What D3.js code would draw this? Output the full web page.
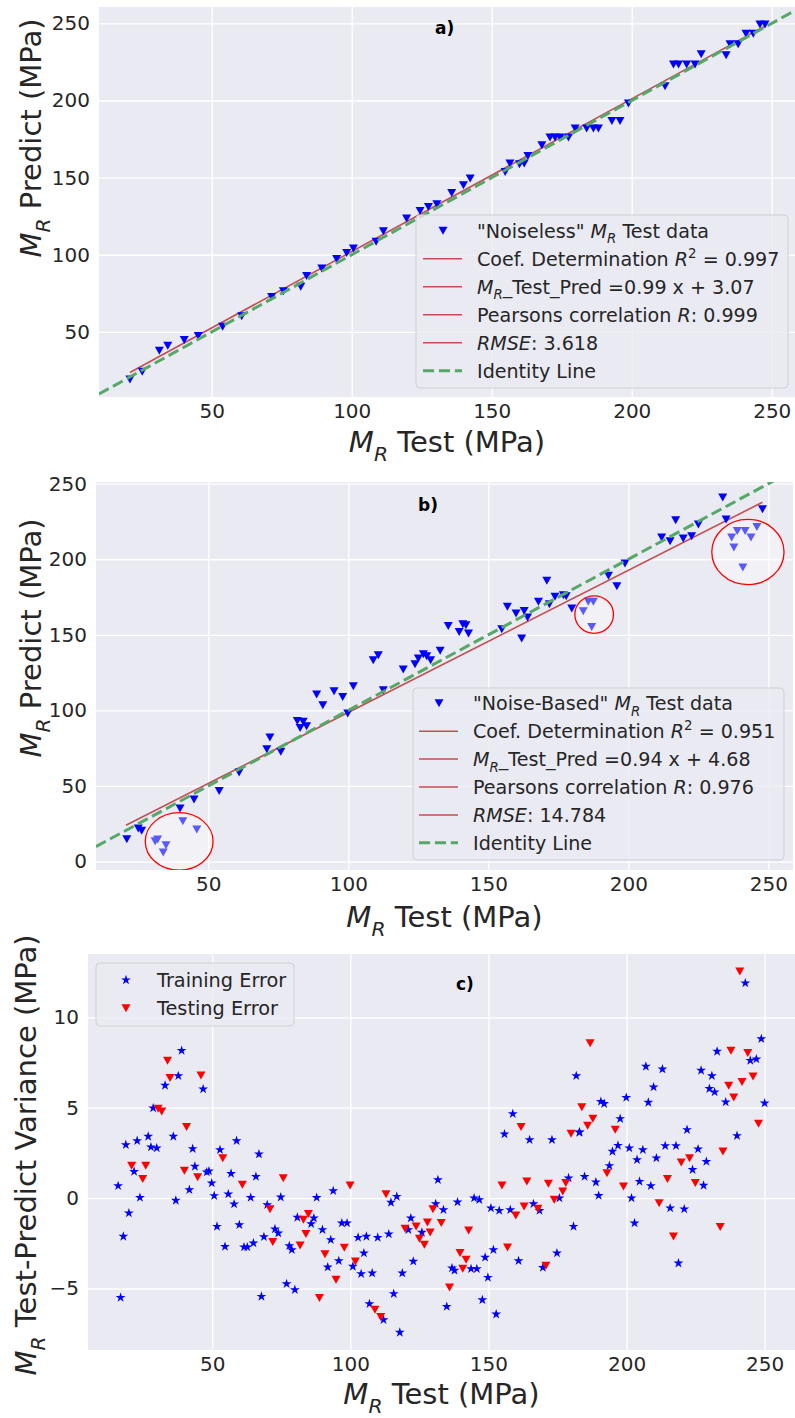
<!DOCTYPE html>
<html><head><meta charset="utf-8">
<script src="https://cdn.jsdelivr.net/npm/d3@7"></script>
<style>body{margin:0;background:#fff} svg{display:block} text{font-family:"DejaVu Sans",sans-serif}</style>
</head><body><svg id="chart" width="795" height="1418"></svg>
<script>
// ---------- DATA ----------
const xTickValues = [50, 100, 150, 200, 250];
const aYTickValues = [50, 100, 150, 200, 250];
const bYTickValues = [0, 50, 100, 150, 200, 250];
const cYTickValues = [-5, 0, 5, 10];

// Panel a: "Noiseless" test data
const aTest = [20.8,25.2,31.3,34.3,40.2,45.2,53.9,60.7,71.4,75.6,81.8,83.9,89.3,94.6,98.2,100.6,108.7,111.3,119.6,124.4,127.4,130.4,135.7,139.9,142.3,154.8,156.5,159.9,161.6,162.9,167.9,170.8,172.6,174.4,177.4,179.8,183.9,186.3,188.1,192.9,195.8,198.8,211.9,214.9,216.7,219.6,222.6,224.8,233.7,235.1,238,240.8,243.4,245.8,247.6];
const aPred = [19.2,24.2,37.8,41,44.7,47.3,53.3,60.2,72.7,76.4,79.2,86.3,91.1,97.2,101.2,104,108.4,115.3,123.5,128.4,131,132.8,140.1,145.1,149.4,153.7,159.1,158.7,159.1,164,171,176,176,176,176,181.8,181.8,181.8,181.8,186.7,186.7,198,209.2,223.4,223.4,223.4,223.4,229.9,229.3,236.4,236.4,243.3,243.3,249.3,249.3];
const aFit = {slope: 0.99, intercept: 3.07, from: 20.8, to: 247.6};

// Panel b: "Noise-Based" test data
const bTest = [20.9,25,26.2,39.9,44.9,53.9,61,70.9,72,75.9,81.8,82.8,83.9,85.1,88.7,90.9,94.9,98,101.8,99.8,108.9,110.7,112.5,119.6,123.8,125,126.8,128,129.4,132.8,135.7,139.6,140.9,142,142.9,154.8,156.8,159.9,162.8,164,161.9,167.9,170.9,171.8,173.8,176.8,177.8,179.8,192.9,195.9,198.8,211.9,214.9,216.9,219.6,222.6,225,233.7,234.9,247.9,
  31,31.9,33.9,34.9,40.9,45.9,183.9,185.7,187.5,186.9,236.9,238.9,241.7,243.8,245.9,237.7,240.9];
const bPred = [14.8,21.9,20.3,35.1,41.1,46.6,58.9,74.3,82.1,72.6,92.9,88.4,92.4,89.5,110.5,103.4,112.7,108.9,116,98,133.2,136.5,113.4,127,130.6,134.3,137.2,135.8,133.1,139.4,155.9,151.9,157,156.3,150.9,153.7,168.5,164.1,165.8,161.4,147.6,171.8,185.7,170.2,175.1,176.2,175.5,167.4,189,182.1,197.2,214.4,211.9,225.8,213.7,215.2,222.9,240.8,226.3,233.1,
  13.5,14.6,6,10.8,26.7,21.2,165.6,171.8,171.8,155.2,214.4,218.7,218.7,214.4,221.4,207.7,194.5];
const bFit = {slope: 0.94, intercept: 4.68, from: 20.6, to: 247.9};
// highlighted clusters (centre x, centre y, radius x, radius y, in data units)
const bClusterX = [39.6, 187.8, 242.7];
const bClusterY = [13.3, 163.4, 204.8];
const bClusterRX = [12.1, 6.9, 12.9];
const bClusterRY = [19.0, 12.4, 21.6];

// Panel c: training / testing errors
const cTrainX = [38.9,37.7,32.9,46.7,28.6,18.7,22.8,26.8,27.8,29.9,35.9,42.9,52.8,58.8,66.9,21.7,15.9,23.8,19.8,17.8,16.8,36.8,41.7,43.7,48,48.8,49.8,50.7,55.8,57.9,56.8,65.8,63.9,51.7,59.8,54.6,61.5,62.7,64.9,67.8,69.9,74.8,68.7,72.7,73.9,77.9,78.8,80.8,86.8,85.8,87.8,93.8,89.9,92.9,76.9,79.9,91.8,95.8,96.9,98.8,100.9,103.9,107.9,102.8,105.8,109.9,104.9,106.9,112,113.9,114.7,116.8,115.7,117.9,118.8,121.9,121,122.8,125.9,130.9,131.7,133.7,138.8,144.8,146.7,150.9,153.9,157.9,166.3,168.5,175.7,179,184.8,188.9,189.9,193.8,194.9,196.9,201,203.8,205.9,204.7,208.8,201.8,202.9,210.8,214,217.9,215.8,220.9,218.8,221.9,223.9,225.9,228.9,227.9,240,136.8,137.7,143.7,145.8,148.8,151.8,149.8,134.9,147.8,152.8,160.9,169.7,174.8,180.8,155.8,164.9,173,182.9,243,248.8,232.8,244.8,247,227,230.9,230,231.9,235.9,250,207,213,209.8,207.9,199.9,190.7,191.9,181.8,197.7,183,158.8];
const cTrainY = [8.16,6.76,6.23,6.03,4.98,2.95,3.17,3.41,2.82,2.77,3.41,2.73,2.67,3.17,2.43,1.47,0.68,0.03,-0.83,-2.12,-5.5,-0.13,0.46,1.75,1.44,1.49,0.83,0.13,0.22,-0.33,1.36,1.19,0.03,-1.57,-1.48,-2.68,-2.71,-2.71,-2.49,-5.44,-0.37,0.05,-2.14,-1.71,-1.94,-2.64,-2.86,-1.07,-1.11,-1.42,0.03,0.4,-1.75,-2.31,-4.74,-5.07,-3.82,-3.47,-1.38,-1.38,-3.78,-4.19,-4.15,-2.18,-2.12,-2.18,-3.04,-5.85,-6.73,-1.99,-0.24,0.09,-5.29,-7.43,-4.15,-1.11,-1.75,-3.5,-1.9,-0.32,1.01,-0.65,-0.22,0,-0.09,-0.55,-0.69,-0.65,-0.32,-0.69,0,1.11,1.19,0.88,0.14,1.79,2.58,2.91,2.77,2.12,2.67,0.92,0.68,0,-1.38,2.21,2.89,2.89,-0.55,-0.61,-3.6,3.78,1.57,2.71,2.02,0.7,3.45,-3.87,-4,-3.91,-3.91,-3.28,-2.86,-4.39,-6,-5.63,-6.42,-3.47,-3.84,-3.04,-1.57,3.54,3.22,3.22,3.63,11.89,8.81,8.11,7.61,7.69,7.06,6.76,6.05,5.86,5.31,5.25,7.28,7.13,6.14,5.29,5.56,5.34,5.22,6.76,4.39,3.65,4.66];
const cTestX = [33.8,34.7,45.9,30.4,31.7,40.7,53.8,20.8,25.9,24.8,39.9,44.7,60.9,75.7,70.9,71.9,83,84.8,83.9,81.8,90.8,88.8,94.8,97.8,101.8,99.9,108.9,111,112.9,119.8,123.8,127.9,128.9,125,126.8,129.9,132.9,142.8,139.7,141.9,140.7,135.9,154.9,163.9,156.9,159.9,162.9,167.9,170.8,171.7,173.8,176.9,178,179.9,192.9,195.9,198.9,211.8,214.8,217,219.8,222.8,224.9,234.9,233.9,241,186.8,237.8,243.9,237,241.8,245.8,238.8,247.8,183.8,187.8,185.9,161.8];
const cTestY = [7.59,6.64,6.78,4.94,4.79,3.93,2.21,1.79,1.79,1.05,1.51,1.16,0.74,1.1,-0.61,-2.43,-1.2,-0.88,-1.99,-2.62,-3.1,-5.53,-4.52,-2.75,-3.5,0.7,-6.18,-6.58,0.22,-1.7,-1.57,-1.35,-1.9,-2.25,-2.58,-0.61,-1.38,-1.79,-3.04,-3.41,-3.91,-4.94,0.7,0.92,-2.73,-0.96,-0.46,-0.59,-3.74,0.79,-0.09,0.37,0.83,3.56,1.38,3.78,0.64,-0.28,1.05,-2.12,1.97,2.21,0.83,2.58,-1.6,12.53,8.57,8.15,8.02,6.21,6.42,6.73,5.56,4.11,5.03,4.39,4,3.93];

// ---------- STYLE / LAYOUT ----------
const BG = "#eaeaf2", TXT = "#262626", RED = "#c44e52", GREEN = "#55a868";
const svg = d3.select("#chart");

function tri(w, h) { return `M${-w/2},${-h/2}L${w/2},${-h/2}L0,${h/2}Z`; }
const starPath = d3.symbol().type(d3.symbolStar).size(30)();

function rich(sel, segs, fs) {
  let shift = 0;
  segs.forEach(s => {
    const target = s.sub ? 0.3 : (s.sup ? -0.42 : 0);
    const ts = sel.append("tspan").text(s.t);
    if (s.i) ts.attr("font-style", "italic");
    if (s.sub || s.sup) ts.attr("font-size", (fs * 0.7) + "px");
    if (target !== shift) ts.attr("dy", ((target - shift) * fs) + "px");
    shift = target;
  });
}
const MR = [{t: "M", i: true}, {t: "R", i: true, sub: true}];

function panel(cfg) {
  const g = svg.append("g");
  const x = d3.scaleLinear().domain(cfg.xDomain).range([cfg.left, cfg.right]);
  const y = d3.scaleLinear().domain(cfg.yDomain).range([cfg.bottom, cfg.top]);
  const clipId = "clip" + cfg.id;
  svg.append("clipPath").attr("id", clipId).append("rect")
    .attr("x", cfg.left).attr("y", cfg.top).attr("width", cfg.right - cfg.left).attr("height", cfg.bottom - cfg.top);
  g.append("rect").attr("x", cfg.left).attr("y", cfg.top).attr("width", cfg.right - cfg.left)
    .attr("height", cfg.bottom - cfg.top).attr("fill", BG);
  const xa = d3.axisBottom(x).tickValues(cfg.xTicks).tickSize(-(cfg.bottom - cfg.top)).tickPadding(6);
  const ya = d3.axisLeft(y).tickValues(cfg.yTicks).tickSize(-(cfg.right - cfg.left)).tickPadding(cfg.yPad);
  const gx = g.append("g").attr("transform", `translate(0,${cfg.bottom})`).call(xa);
  const gy = g.append("g").attr("transform", `translate(${cfg.left},0)`).call(ya);
  [gx, gy].forEach(a => {
    a.select(".domain").remove();
    a.selectAll(".tick line").attr("stroke", "#fff").attr("stroke-width", 1.3);
    a.selectAll(".tick text").attr("fill", TXT).attr("font-size", cfg.tickFs + "px")
      .attr("font-family", '"DejaVu Sans", sans-serif');
  });
  gx.selectAll(".tick text").attr("dy", "0.75em");
  const plot = g.append("g").attr("clip-path", `url(#${clipId})`);
  cfg.draw({ plot, x, y });
  const xl = g.append("text").attr("x", (cfg.left + cfg.right) / 2).attr("y", cfg.xLabelY)
    .attr("text-anchor", "middle").attr("fill", TXT).attr("font-size", cfg.labelFs + "px");
  rich(xl, MR.concat([{t: " Test (MPa)"}]), cfg.labelFs);
  const yl = g.append("text").attr("transform", `translate(${cfg.yLabelX},${cfg.yLabelCY}) rotate(-90)`)
    .attr("text-anchor", "middle").attr("fill", TXT).attr("font-size", cfg.labelFs + "px");
  rich(yl, MR.concat([{t: cfg.yLabel}]), cfg.labelFs);
  g.append("text").attr("x", cfg.tag.x).attr("y", cfg.tag.y).attr("font-weight", "bold")
    .attr("font-size", "17px").attr("fill", "#000").attr("font-family", '"Open Sans", sans-serif').text(cfg.tag.t);
  const L = cfg.legend;
  const lg = g.append("g");
  lg.append("rect").attr("x", L.x).attr("y", L.y).attr("width", L.w).attr("height", L.h).attr("rx", 4)
    .attr("fill", BG).attr("fill-opacity", 0.8).attr("stroke", "#cfcfd6").attr("stroke-width", 1);
  L.items.forEach((it, i) => {
    const cy = L.y + L.first + i * L.step;
    if (it.kind === "tri") lg.append("path").attr("d", tri(9, 8)).attr("transform", `translate(${L.hx + 20},${cy})`).attr("fill", it.color);
    else if (it.kind === "star") lg.append("path").attr("d", starPath).attr("transform", `translate(${L.hx + 20},${cy})`).attr("fill", it.color);
    else if (it.kind === "line") lg.append("line").attr("x1", L.hx).attr("x2", L.hx + 39).attr("y1", cy).attr("y2", cy).attr("stroke", RED).attr("stroke-width", 1.5);
    else lg.append("line").attr("x1", L.hx).attr("x2", L.hx + 39).attr("y1", cy).attr("y2", cy).attr("stroke", GREEN).attr("stroke-width", 3).attr("stroke-dasharray", "11.1 4.8");
    const t = lg.append("text").attr("x", L.tx).attr("y", cy).attr("dy", "0.36em").attr("fill", TXT).attr("font-size", L.fs + "px");
    rich(t, it.label, L.fs);
  });
}

function regPanel(mk, xs, ys, fit, dom) {
  const {plot, x, y} = mk;
  plot.append("line").attr("x1", x(fit.from)).attr("x2", x(fit.to))
    .attr("y1", y(fit.slope * fit.from + fit.intercept)).attr("y2", y(fit.slope * fit.to + fit.intercept))
    .attr("stroke", RED).attr("stroke-width", 1.6);
  plot.selectAll("path.pt").data(xs).join("path").attr("class", "pt").attr("d", tri(9, 8))
    .attr("transform", (d, i) => `translate(${x(d)},${y(ys[i])})`).attr("fill", "#0000ff");
  plot.append("line").attr("x1", x(dom[0])).attr("x2", x(dom[1])).attr("y1", y(dom[0])).attr("y2", y(dom[1]))
    .attr("stroke", GREEN).attr("stroke-width", 3).attr("stroke-dasharray", "11.1 4.8");
}

const regLegend = (name, r2, eq, r, rmse) => [
  {kind: "tri", color: "#0000ff", label: [{t: ` "${name}" `}].concat(MR, [{t: " Test data"}])},
  {kind: "line", label: [{t: "Coef. Determination "}, {t: "R", i: true}, {t: "2", sup: true}, {t: " = " + r2}]},
  {kind: "line", label: MR.concat([{t: "_Test_Pred =" + eq}])},
  {kind: "line", label: [{t: "Pearsons correlation "}, {t: "R", i: true}, {t: ": " + r}]},
  {kind: "line", label: [{t: "RMSE", i: true}, {t: ": " + rmse}]},
  {kind: "dash", label: [{t: "Identity Line"}]}
];

panel({
  id: "a", left: 99, right: 795, top: 7, bottom: 397,
  xDomain: [9.75, 258.3], yDomain: [7.8, 260.6], xTicks: xTickValues, yTicks: aYTickValues,
  tickFs: 20, labelFs: 29, yPad: 9, xLabelY: 452, yLabelX: 41, yLabelCY: 138, yLabel: " Predict (MPa)",
  tag: {t: "a)", x: 435, y: 34},
  legend: {x: 416, y: 215, w: 372, h: 173, first: 15.7, step: 28, hx: 423, tx: 477, fs: 19.1,
    items: regLegend("Noiseless", "0.997", "0.99 x + 3.07", "0.999", "3.618")},
  draw: mk => regPanel(mk, aTest, aPred, aFit, [9.75, 258.3])
});

panel({
  id: "b", left: 96, right: 793, top: 482, bottom: 870,
  xDomain: [9.9, 258.8], yDomain: [-5.6, 251.1], xTicks: xTickValues, yTicks: bYTickValues,
  tickFs: 20, labelFs: 29, yPad: 9, xLabelY: 927, yLabelX: 41, yLabelCY: 638, yLabel: " Predict (MPa)",
  tag: {t: "b)", x: 418, y: 511},
  legend: {x: 413, y: 688, w: 371, h: 172, first: 15.3, step: 27.9, hx: 419, tx: 473, fs: 19.1,
    items: regLegend("Noise-Based", "0.951", "0.94 x + 4.68", "0.976", "14.784")},
  draw: mk => {
    regPanel(mk, bTest, bPred, bFit, [9.9, 258.8]);
    const {plot, x, y} = mk;
    plot.selectAll("ellipse").data(bClusterX).join("ellipse")
      .attr("cx", d => x(d)).attr("cy", (d, i) => y(bClusterY[i]))
      .attr("rx", (d, i) => x(d + bClusterRX[i]) - x(d)).attr("ry", (d, i) => y(0) - y(bClusterRY[i]))
      .attr("fill", "#fff").attr("fill-opacity", 0.35).attr("stroke", "#ff0000").attr("stroke-width", 1.3);
  }
});

panel({
  id: "c", left: 88, right: 795, top: 954, bottom: 1350,
  xDomain: [5, 261], yDomain: [-8.4, 13.5], xTicks: xTickValues, yTicks: cYTickValues,
  tickFs: 20, labelFs: 29, yPad: 9, xLabelY: 1404, yLabelX: 36, yLabelCY: 1155, yLabel: " Test-Predict Variance (MPa)",
  tag: {t: "c)", x: 456, y: 990},
  legend: {x: 96, y: 963, w: 198, h: 63, first: 17, step: 28.3, hx: 106, tx: 157, fs: 19.3,
    items: [{kind: "star", color: "#0000ff", label: [{t: "Training Error"}]},
            {kind: "tri", color: "#ff0000", label: [{t: "Testing Error"}]}]},
  draw: mk => {
    const {plot, x, y} = mk;
    plot.selectAll("path.tr").data(cTrainX).join("path").attr("class", "tr").attr("d", starPath)
      .attr("transform", (d, i) => `translate(${x(d)},${y(cTrainY[i])})`).attr("fill", "#0000ff");
    plot.selectAll("path.te").data(cTestX).join("path").attr("class", "te").attr("d", tri(9, 8))
      .attr("transform", (d, i) => `translate(${x(d)},${y(cTestY[i])})`).attr("fill", "#ff0000");
  }
});
</script></body></html>
